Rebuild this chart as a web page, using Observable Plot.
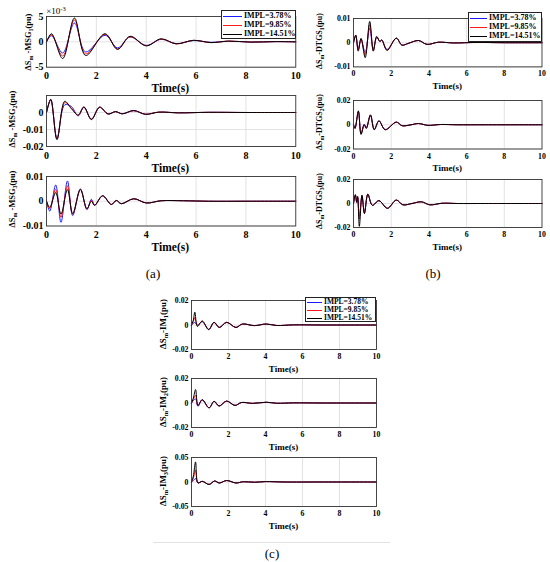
<!DOCTYPE html>
<html>
<head>
<meta charset="utf-8">
<script src="https://cdn.jsdelivr.net/npm/d3@7"></script>
<script src="https://cdn.jsdelivr.net/npm/@observablehq/plot@0.6"></script>
<style>
  html, body { margin: 0; padding: 0; background: #fff; }
  #fig { position: relative; width: 550px; height: 562px; overflow: hidden; font-family: "Liberation Serif", serif; }
  .lbl { position: absolute; transform: translate(-50%, -50%); white-space: nowrap; color: #000; line-height: 1; }
  .ylbl { position: absolute; transform: translate(-50%, -50%) rotate(-90deg); white-space: nowrap; font-weight: bold; line-height: 1; }
  .sub { font-size: 0.72em; position: relative; top: 0.35em; }
  .sup { font-size: 0.72em; position: relative; top: -0.45em; }
  .legend { position: absolute; background: #fff; border: 1px solid #222; box-sizing: border-box; }
  .legrow { position: absolute; font-weight: bold; white-space: nowrap; line-height: 1; }
  .legline { position: absolute; height: 0; }
</style>
</head>
<body>
<div id="fig"></div>
<script>
// ---------------- data ----------------
const seriesNames = ["IMPL=3.78%", "IMPL=9.85%", "IMPL=14.51%"];
const xTicks = [0, 2, 4, 6, 8, 10];

// (a) MSG1, values in 1e-3 pu
const a1_t     = [0, 0.2, 0.65, 1.12, 1.57, 2.35, 2.85, 3.35, 4.0, 4.6, 5.2, 5.9, 6.6, 7.3, 8.2, 9.2, 10];
const a1_blue  = [0, 1.2, -2.2, 3.7, -2.0, 1.3, -1.2, 0.95, -0.7, 0.5, -0.35, 0.25, -0.1, 0.12, -0.05, 0.04, 0];
const a1_red   = [0, 1.4, -2.8, 4.3, -2.4, 1.5, -1.4, 1.0, -0.75, 0.55, -0.4, 0.3, -0.15, 0.15, -0.05, 0.05, 0];
const a1_black = [0, 1.6, -3.3, 4.7, -2.7, 1.6, -1.5, 1.1, -0.8, 0.6, -0.4, 0.3, -0.15, 0.15, -0.05, 0.05, 0];

// (a) MSG2
const a2_t     = [0, 0.17, 0.42, 0.73, 1.0, 1.27, 1.5, 1.8, 2.13, 2.47, 2.77, 3.04, 3.5, 3.97, 4.5, 5.3, 6.5, 8, 10];
const a2_blue  = [0, 0.0074, -0.015, 0.0045, 0.0035, -0.002, 0.003, -0.0038, 0.003, -0.0008, 0.0005, -0.0007, 0.001, -0.001, 0.0002, -0.0002, 0.0001, 0, 0];
const a2_red   = [0, 0.0076, -0.0155, 0.0058, 0.0026, -0.0017, 0.0032, -0.004, 0.0031, -0.0009, 0.0005, -0.0008, 0.0011, -0.001, 0.0002, -0.0002, 0.0001, 0, 0];
const a2_black = [0, 0.0078, -0.016, 0.0066, 0.0022, -0.0015, 0.0033, -0.0042, 0.0032, -0.0009, 0.0005, -0.0008, 0.0012, -0.0011, 0.0002, -0.0002, 0.0001, 0, 0];

// (a) MSG3
const a3_t     = [0, 0.13, 0.37, 0.58, 0.84, 1.05, 1.36, 1.62, 1.8, 1.93, 2.25, 2.6, 2.8, 3.0, 3.5, 4.0, 4.6, 5.5, 6.5, 8, 10];
const a3_blue  = [0, -0.004, 0.0066, -0.0085, 0.0082, -0.0058, 0.005, -0.0034, 0.0008, -0.0015, 0.0022, -0.0013, 0.0003, -0.001, 0.001, -0.0007, 0.0002, 0.0002, 0, 0, 0];
const a3_red   = [0, -0.003, 0.0048, -0.0065, 0.0062, -0.0052, 0.0048, -0.0032, 0.0004, -0.0016, 0.0022, -0.0013, 0.0003, -0.001, 0.001, -0.0007, 0.0002, 0.0002, 0, 0, 0];
const a3_black = [0, -0.0025, 0.0035, -0.0052, 0.0047, -0.005, 0.0047, -0.003, 0.0, -0.0017, 0.0022, -0.0013, 0.0003, -0.001, 0.001, -0.0007, 0.0002, 0.0002, 0, 0, 0];

// (b) DTGS1
const b1_t     = [0, 0.12, 0.25, 0.4, 0.62, 0.86, 1.05, 1.23, 1.4, 1.5, 1.78, 2.27, 2.57, 2.9, 3.45, 3.9, 4.5, 5.3, 6.5, 8, 10];
const b1_blue  = [0, 0.0028, -0.0025, 0.0014, -0.004, 0.006, -0.0028, 0.0022, 0.0005, 0.001, -0.0028, 0.0018, -0.001, -0.0003, 0.0009, -0.0007, 0.0002, -0.0001, 0.0001, 0, 0];
const b1_red   = [0, 0.003, -0.003, 0.0015, -0.005, 0.0075, -0.0032, 0.0024, 0.0005, 0.0011, -0.003, 0.0019, -0.001, -0.0003, 0.0009, -0.0007, 0.0002, -0.0001, 0.0001, 0, 0];
const b1_black = [0, 0.0032, -0.0035, 0.0018, -0.0062, 0.0088, -0.0035, 0.0026, 0.0005, 0.0012, -0.0032, 0.0019, -0.001, -0.0003, 0.0009, -0.0007, 0.0002, -0.0001, 0.0001, 0, 0];

// (b) DTGS2
const b2_t     = [0, 0.08, 0.26, 0.4, 0.57, 0.68, 0.9, 1.1, 1.35, 1.68, 2.27, 2.58, 3.0, 3.45, 3.95, 4.6, 5.5, 7, 10];
const b2_blue  = [0, -0.0028, 0.0105, -0.007, 0.0005, -0.0025, 0.0077, -0.0038, 0.0031, -0.0039, 0.0021, -0.0008, -0.0002, 0.001, -0.0005, 0.0002, 0, 0, 0];
const b2_red   = [0, -0.003, 0.011, -0.0075, 0.0, -0.003, 0.008, -0.004, 0.0032, -0.004, 0.0022, -0.0008, -0.0002, 0.001, -0.0005, 0.0002, 0, 0, 0];
const b2_black = [0, -0.003, 0.0115, -0.008, 0.0, -0.003, 0.0082, -0.0042, 0.0033, -0.0042, 0.0022, -0.0008, -0.0002, 0.001, -0.0005, 0.0002, 0, 0, 0];

// (b) DTGS3
const b3_t     = [0, 0.1, 0.17, 0.22, 0.31, 0.45, 0.58, 0.76, 1.0, 1.35, 1.8, 2.27, 2.62, 3.1, 3.6, 4.05, 4.7, 5.5, 7, 10];
const b3_blue  = [0, 0.0068, 0.001, 0.005, -0.011, 0.0062, -0.0075, 0.0075, -0.0015, 0.0023, -0.0039, 0.0028, -0.0011, 0, 0.0014, -0.0011, 0.0002, 0, 0, 0];
const b3_red   = [0, 0.007, 0.001, 0.0055, -0.013, 0.0065, -0.008, 0.0077, -0.0015, 0.0024, -0.004, 0.0029, -0.0011, 0, 0.0014, -0.0011, 0.0002, 0, 0, 0];
const b3_black = [0, 0.0075, 0.001, 0.006, -0.019, 0.007, -0.0085, 0.0078, -0.0015, 0.0024, -0.004, 0.0029, -0.0011, 0, 0.0014, -0.0011, 0.0002, 0, 0, 0];

// (c) IM1
const c1_t     = [0, 0.1, 0.18, 0.32, 0.58, 0.93, 1.22, 1.5, 1.9, 2.4, 2.75, 3.4, 4.04, 4.6, 5.5, 7, 10];
const c1_blue  = [0, 0.0015, 0.002, 0.0, 0.0027, -0.0035, 0.0021, -0.002, 0.0021, -0.002, 0.0008, -0.0005, 0.0008, -0.0004, 0.0001, 0, 0];
const c1_red   = [0, 0.003, 0.006, -0.0005, 0.003, -0.0037, 0.0022, -0.002, 0.0022, -0.002, 0.0008, -0.0005, 0.0008, -0.0004, 0.0001, 0, 0];
const c1_black = [0, 0.004, 0.0105, -0.0012, 0.0033, -0.0038, 0.0022, -0.002, 0.0022, -0.002, 0.0008, -0.0005, 0.0008, -0.0004, 0.0001, 0, 0];

// (c) IM2
const c2_t     = [0, 0.1, 0.22, 0.35, 0.58, 0.95, 1.22, 1.49, 1.9, 2.35, 2.7, 3.3, 4.04, 4.6, 5.5, 7, 10];
const c2_blue  = [0, 0.002, 0.0033, -0.0027, 0.0025, -0.0039, 0.0013, -0.0024, 0.0015, -0.002, 0.0004, -0.0003, 0.0006, -0.0002, 0.0001, 0, 0];
const c2_red   = [0, 0.003, 0.0063, -0.0018, 0.0026, -0.004, 0.0014, -0.0025, 0.0016, -0.002, 0.0004, -0.0003, 0.0006, -0.0002, 0.0001, 0, 0];
const c2_black = [0, 0.004, 0.011, -0.002, 0.0027, -0.004, 0.0014, -0.0025, 0.0016, -0.002, 0.0004, -0.0003, 0.0006, -0.0002, 0.0001, 0, 0];

// (c) IM3
const c3_t     = [0, 0.1, 0.22, 0.35, 0.58, 0.95, 1.25, 1.5, 1.9, 2.4, 2.8, 3.4, 4.0, 5, 7, 10];
const c3_blue  = [0, 0.003, 0.007, -0.002, 0.0014, -0.005, 0.002, -0.002, 0.003, -0.002, 0.0005, -0.0005, 0.0008, 0, 0, 0];
const c3_red   = [0, 0.008, 0.024, -0.002, 0.0014, -0.005, 0.002, -0.002, 0.003, -0.002, 0.0005, -0.0005, 0.0008, 0, 0, 0];
const c3_black = [0, 0.012, 0.041, -0.002, 0.0014, -0.005, 0.002, -0.002, 0.003, -0.002, 0.0005, -0.0005, 0.0008, 0, 0, 0];

// y-axis ticks
const yTicksA1 = [-5, 0, 5];
const yTicksA2 = [-0.02, -0.01, 0];
const yTicks01 = [-0.01, 0, 0.01];
const yTicks02 = [-0.02, 0, 0.02];
const yTicks05 = [-0.05, 0, 0.05];

// ---------------- drawing ----------------
const COLORS = ["#1a1aff", "#ff1a1a", "#000000"];
const fig = document.getElementById("fig");

function addDiv(cls, html, x, y, style) {
  const d = document.createElement("div");
  d.className = cls;
  d.innerHTML = html;
  d.style.left = x + "px";
  d.style.top = y + "px";
  Object.assign(d.style, style || {});
  fig.appendChild(d);
  return d;
}

function panel(p) {
  const L = 50, R = 8, T = 6, B = 24;
  const fw = p.fx1 - p.fx0, fh = p.fy1 - p.fy0;
  const mk = (vals) => p.t.map((t, i) => ({t, v: vals[i]}));
  const chart = Plot.plot({
    width: fw + L + R,
    height: fh + T + B,
    marginLeft: L, marginRight: R, marginTop: T, marginBottom: B,
    x: {domain: [0, 10], ticks: xTicks, tickFormat: d => String(d), tickSize: 0, tickPadding: p.xPad, label: null},
    y: {domain: p.yDomain, ticks: p.yTicks, tickFormat: d => String(d), tickSize: 0, tickPadding: 3, label: null},
    style: {
      background: "transparent",
      fontFamily: "'Liberation Serif', serif",
      fontWeight: "bold",
      fontSize: p.tickFont + "px",
      color: "#000",
      overflow: "visible"
    },
    marks: [
      Plot.gridX(xTicks.slice(1, -1), {stroke: "#d6d6d6", strokeOpacity: 1, strokeWidth: 0.7}),
      Plot.gridY(p.yTicks, {stroke: "#d6d6d6", strokeOpacity: 1, strokeWidth: 0.7}),
      Plot.line(mk(p.blue), {x: "t", y: "v", stroke: COLORS[0], strokeWidth: 1, curve: "catmull-rom"}),
      Plot.line(mk(p.red), {x: "t", y: "v", stroke: COLORS[1], strokeWidth: 1, curve: "catmull-rom"}),
      Plot.line(mk(p.black), {x: "t", y: "v", stroke: COLORS[2], strokeWidth: 1, curve: "catmull-rom"}),
      Plot.frame({stroke: "#333", strokeWidth: 0.9})
    ]
  });
  chart.style.position = "absolute";
  chart.style.left = (p.fx0 - L) + "px";
  chart.style.top = (p.fy0 - T) + "px";
  fig.appendChild(chart);

  // x-axis title
  addDiv("lbl", "Time(s)", (p.fx0 + p.fx1) / 2, p.fy1 + p.timeOff,
    {fontSize: p.timeFont + "px", fontWeight: "bold"});
  // y-axis title, font fitted to the length it has in the reference
  const yl = addDiv("ylbl", `ΔS<span class="sub">m</span>${p.yMid}<span class="sub">${p.yIdx}</span>(pu)`,
    p.ylx, p.ylc, {fontSize: "10px"});
  const w = yl.offsetWidth;
  if (w > 0) yl.style.fontSize = (10 * p.yLen / w).toFixed(2) + "px";
}

function legend(x, y, w, h, rowYs, lineX0, lineX1, textX, font) {
  addDiv("legend", "", x, y, {width: w + "px", height: h + "px"});
  rowYs.forEach((ry, i) => {
    addDiv("legline", "", lineX0, ry, {width: (lineX1 - lineX0) + "px", borderTop: "1.5px solid " + COLORS[i]});
    addDiv("legrow", seriesNames[i], textX, ry - font * 0.5, {fontSize: font + "px"});
  });
}

const A = {fx0: 45.7, fx1: 295, tickFont: 10, xPad: 5, timeFont: 11.5, timeOff: 22.5, yLen: 57};
const Bp = {fx0: 353, fx1: 541.5, tickFont: 7.8, xPad: 4, timeFont: 9, timeOff: 19.5, yLen: 56, ylx: 320};
const Cp = {fx0: 191, fx1: 376, tickFont: 7.8, xPad: 4, timeFont: 9, timeOff: 19.5, yLen: 50, ylx: 163};

panel({...A, fy0: 16, fy1: 66.7, ylx: 29, ylc: 42, yDomain: [-5, 5], yTicks: yTicksA1, t: a1_t, blue: a1_blue, red: a1_red, black: a1_black, yMid: " -MSG", yIdx: "1"});
panel({...A, fy0: 95.3, fy1: 146.3, ylx: 13, ylc: 119, yDomain: [-0.02, 0.01], yTicks: yTicksA2, t: a2_t, blue: a2_blue, red: a2_red, black: a2_black, yMid: " -MSG", yIdx: "2"});
panel({...A, fy0: 176, fy1: 225.5, ylx: 13, ylc: 199, yDomain: [-0.01, 0.01], yTicks: yTicks01, t: a3_t, blue: a3_blue, red: a3_red, black: a3_black, yMid: " -MSG", yIdx: "3"});

panel({...Bp, fy0: 18.3, fy1: 66.7, ylc: 41, yDomain: [-0.01, 0.01], yTicks: yTicks01, t: b1_t, blue: b1_blue, red: b1_red, black: b1_black, yMid: "-DTGS", yIdx: "1"});
panel({...Bp, fy0: 99.5, fy1: 148, ylc: 122, yDomain: [-0.02, 0.02], yTicks: yTicks02, t: b2_t, blue: b2_blue, red: b2_red, black: b2_black, yMid: "-DTGS", yIdx: "2"});
panel({...Bp, fy0: 179, fy1: 227, ylc: 201, yDomain: [-0.02, 0.02], yTicks: yTicks02, t: b3_t, blue: b3_blue, red: b3_red, black: b3_black, yMid: "-DTGS", yIdx: "3"});

panel({...Cp, fy0: 300, fy1: 349, ylc: 324, yDomain: [-0.02, 0.02], yTicks: yTicks02, t: c1_t, blue: c1_blue, red: c1_red, black: c1_black, yMid: "-IM", yIdx: "1"});
panel({...Cp, fy0: 378, fy1: 427, ylc: 402, yDomain: [-0.02, 0.02], yTicks: yTicks02, t: c2_t, blue: c2_blue, red: c2_red, black: c2_black, yMid: "-IM", yIdx: "2"});
panel({...Cp, fy0: 457, fy1: 506, ylc: 481, yDomain: [-0.05, 0.05], yTicks: yTicks05, t: c3_t, blue: c3_blue, red: c3_red, black: c3_black, yMid: "-IM", yIdx: "3"});

// exponent label of panel (a) MSG1
addDiv("lbl", '×10<span class="sup">-3</span>', 56, 11, {fontSize: "9px"});

// legends
legend(221, 10, 75, 29, [15.5, 24.5, 33.5], 223, 242, 244, 8);
legend(468, 12, 74, 30, [17.5, 26.5, 35.5], 470, 487, 489, 8);
legend(305, 297, 71, 25, [301.5, 309.5, 317.5], 307, 322, 324, 7.5);

// panel captions
addDiv("lbl", "(a)", 153, 273, {fontSize: "13px"});
addDiv("lbl", "(b)", 433, 273, {fontSize: "13px"});
addDiv("lbl", "(c)", 272, 553, {fontSize: "13px"});
const rule = document.createElement("div");
Object.assign(rule.style, {position: "absolute", left: "153px", top: "542px", width: "237px", height: "0", borderTop: "1px solid #e2e2e2"});
fig.appendChild(rule);
</script>
</body>
</html>
